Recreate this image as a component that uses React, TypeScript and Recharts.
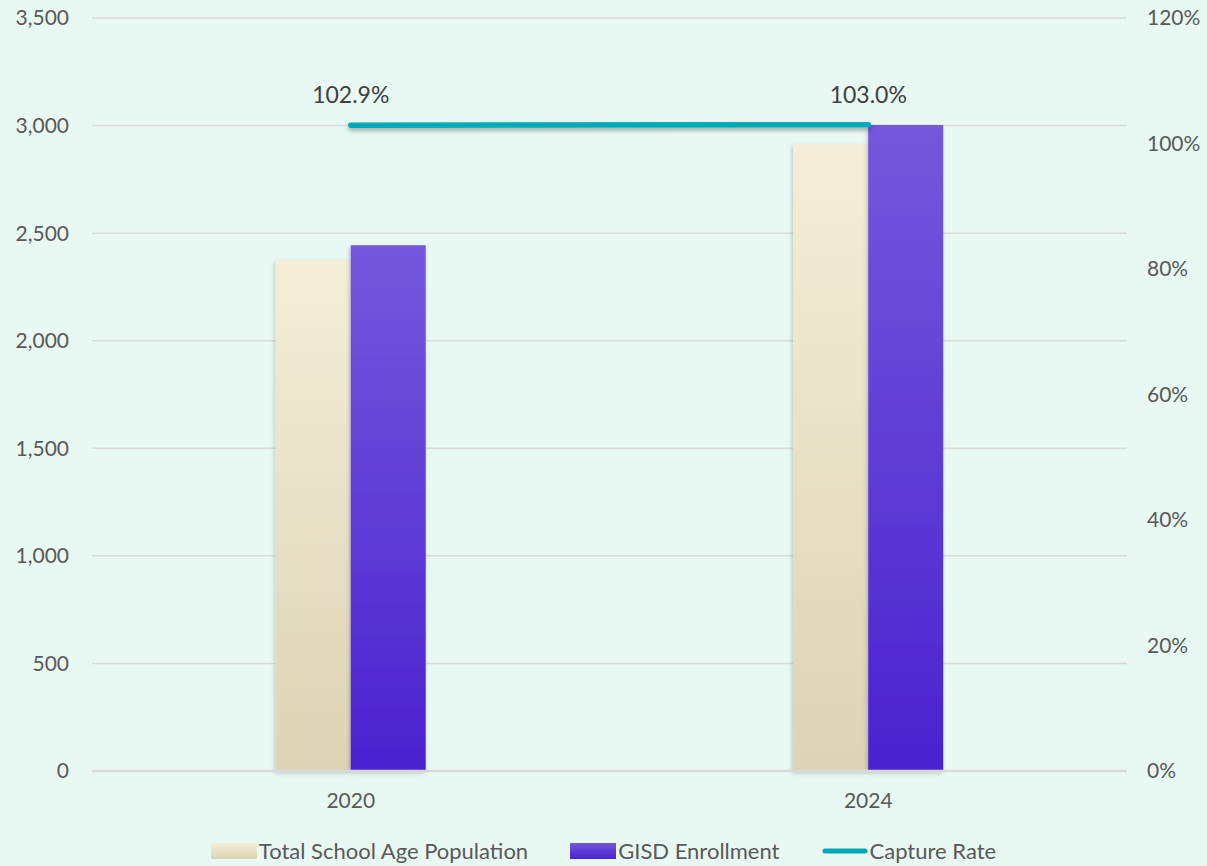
import React from "react";
import {
  ComposedChart,
  Bar,
  Line,
  XAxis,
  YAxis,
  CartesianGrid,
  Legend,
  LabelList,
} from "recharts";

const years = ["2020", "2024"];
const totalSchoolAgePopulation = [2375, 2915];
const gisdEnrollment = [2444, 3003];
const captureRate = [1.029, 1.03];
const leftTicks = [0, 500, 1000, 1500, 2000, 2500, 3000, 3500];
const rightTicks = [0, 0.2, 0.4, 0.6, 0.8, 1.0, 1.2];

const data = years.map((y, i) => ({
  year: y,
  pop: totalSchoolAgePopulation[i],
  enr: gisdEnrollment[i],
  rate: captureRate[i],
}));

const FONT = "Lato, 'Open Sans', sans-serif";
const BG = "#e8f8f2";

const legendItems = [
  { label: "Total School Age Population", kind: "rect", fill: "url(#lgTan)" },
  { label: "GISD Enrollment", kind: "rect", fill: "url(#lgPurple)" },
  { label: "Capture Rate", kind: "line", fill: "#00a8b8" },
];

const LegendContent = () => (
  <div
    style={{
      display: "flex",
      justifyContent: "center",
      alignItems: "center",
      fontFamily: FONT,
      fontSize: 22,
      color: "#595959",
      gap: 42,
      lineHeight: "26px",
    }}
  >
    {legendItems.map((it) => (
      <div key={it.label} style={{ display: "flex", alignItems: "center" }}>
        <svg width={46} height={18} style={{ marginRight: 2 }}>
          <defs>
            <linearGradient id="lgTan" x1="0" y1="0" x2="0" y2="1">
              <stop offset="0%" stopColor="#f4eed8" />
              <stop offset="100%" stopColor="#ddd3b4" />
            </linearGradient>
            <linearGradient id="lgPurple" x1="0" y1="0" x2="0" y2="1">
              <stop offset="0%" stopColor="#7458db" />
              <stop offset="100%" stopColor="#4a22d0" />
            </linearGradient>
          </defs>
          {it.kind === "rect" ? (
            <rect x={0} y={1} width={46} height={16} fill={it.fill} />
          ) : (
            <line
              x1={3}
              y1={9}
              x2={43}
              y2={9}
              stroke={it.fill}
              strokeWidth={5}
              strokeLinecap="round"
            />
          )}
        </svg>
        <span>{it.label}</span>
      </div>
    ))}
  </div>
);

export default function App() {
  return (
    <div
      style={{
        position: "fixed",
        left: 0,
        top: 0,
        width: 1207,
        height: 866,
        background: BG,
      }}
    >
      <ComposedChart
        width={1207}
        height={866}
        data={data}
        margin={{ top: 18, right: 0, bottom: 0, left: 0 }}
        barGap={0}
        barCategoryGap="35.5%"
      >
        <defs>
          <linearGradient id="gTan" x1="0" y1="0" x2="0" y2="1">
            <stop offset="0%" stopColor="#f4eed8" />
            <stop offset="100%" stopColor="#ddd3b4" />
          </linearGradient>
          <linearGradient id="gPurple" x1="0" y1="0" x2="0" y2="1">
            <stop offset="0%" stopColor="#7458db" />
            <stop offset="100%" stopColor="#4a22d0" />
          </linearGradient>
          <filter id="shadow" x="-20%" y="-20%" width="140%" height="140%">
            <feDropShadow dx="-1" dy="2" stdDeviation="2" floodColor="#000" floodOpacity="0.22" />
          </filter>
          <filter
            id="lineShadow"
            filterUnits="userSpaceOnUse"
            x="0"
            y="0"
            width="1207"
            height="866"
          >
            <feDropShadow dx="0" dy="3" stdDeviation="2" floodColor="#000" floodOpacity="0.3" />
          </filter>
        </defs>
        <CartesianGrid
          yAxisId="left"
          vertical={false}
          stroke="#d9d9d9"
          strokeWidth={1.5}
        />
        <XAxis
          dataKey="year"
          axisLine={{ stroke: "#d9d9d9", strokeWidth: 2.5 }}
          tickLine={false}
          tickSize={0}
          tickMargin={22}
          height={48}
          tick={{ fill: "#595959", fontSize: 21, fontFamily: FONT }}
        />
        <YAxis
          yAxisId="left"
          orientation="left"
          width={92}
          domain={[0, 3500]}
          ticks={leftTicks}
          axisLine={false}
          tickLine={false}
          tickSize={0}
          tickMargin={23}
          tickFormatter={(v: number) => v.toLocaleString("en-US")}
          tick={{ fill: "#595959", fontSize: 21, fontFamily: FONT }}
        />
        <YAxis
          yAxisId="right"
          orientation="right"
          width={80}
          domain={[0, 1.2]}
          ticks={rightTicks}
          axisLine={false}
          tickLine={false}
          tickSize={0}
          tickMargin={20}
          tickFormatter={(v: number) => `${Math.round(v * 100)}%`}
          tick={{ fill: "#595959", fontSize: 21, fontFamily: FONT, textAnchor: "start" }}
        />
        <Legend
          verticalAlign="bottom"
          height={47}
          wrapperStyle={{ top: 838, left: 0, width: 1207 }}
          content={<LegendContent />}
        />
        <Bar
          yAxisId="left"
          dataKey="pop"
          name="Total School Age Population"
          fill="url(#gTan)"
          filter="url(#shadow)"
          isAnimationActive={false}
        />
        <Bar
          yAxisId="left"
          dataKey="enr"
          name="GISD Enrollment"
          fill="url(#gPurple)"
          filter="url(#shadow)"
          isAnimationActive={false}
        />
        <Line
          yAxisId="right"
          dataKey="rate"
          name="Capture Rate"
          stroke="#00a8b8"
          strokeWidth={5.5}
          strokeLinecap="round"
          dot={false}
          activeDot={false}
          filter="url(#lineShadow)"
          isAnimationActive={false}
        >
          <LabelList
            dataKey="rate"
            position="top"
            offset={22}
            formatter={(v: number) => `${(v * 100).toFixed(1)}%`}
            style={{ fill: "#404040", fontSize: 23, fontFamily: FONT }}
          />
        </Line>
      </ComposedChart>
    </div>
  );
}
